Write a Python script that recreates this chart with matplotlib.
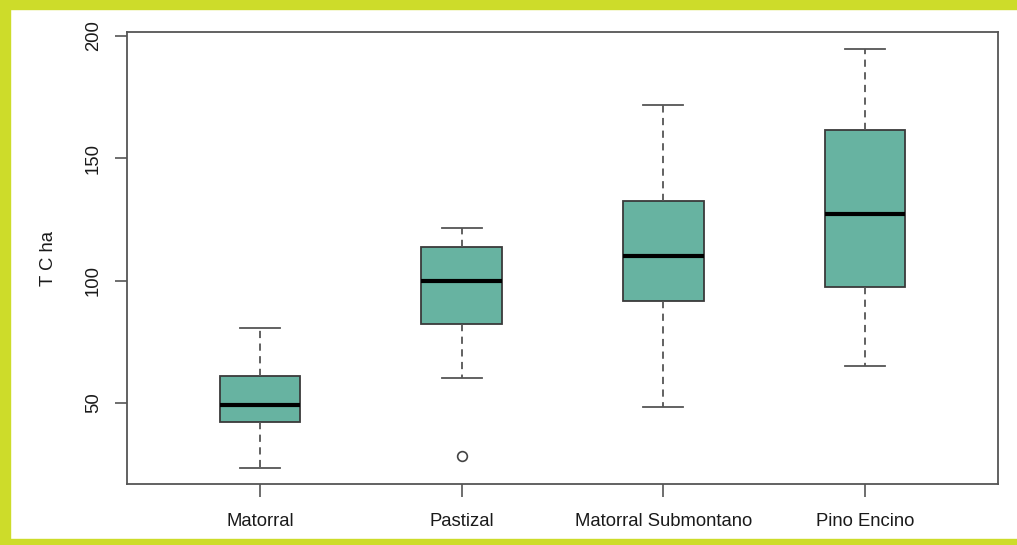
import matplotlib.pyplot as plt
from matplotlib.patches import Rectangle

categories = ['Matorral', 'Pastizal', 'Matorral Submontano', 'Pino Encino']
whislo = [23.4, 60.3, 48.2, 65.1]
q1 = [42.1, 82.3, 91.7, 97.5]
med = [49.3, 99.8, 110.0, 127.0]
q3 = [61.0, 113.5, 132.6, 161.6]
whishi = [80.7, 121.5, 171.8, 194.8]
fliers = [[], [28.3], [], []]
yticks = [50, 100, 150, 200]

plt.rcParams['font.family'] = ['Liberation Sans', 'DejaVu Sans']

fig = plt.figure(figsize=(10.17, 5.45), dpi=100)
ax = fig.add_axes([127 / 1017, 1 - 484 / 545, (998 - 127) / 1017, (484 - 32) / 545])

stats = []
for i, name in enumerate(categories):
    stats.append({'label': name, 'whislo': whislo[i], 'q1': q1[i], 'med': med[i],
                  'q3': q3[i], 'whishi': whishi[i], 'fliers': fliers[i]})

edge = '#3a3a3a'
ax.bxp(stats, positions=[1, 2, 3, 4], widths=0.4, patch_artist=True,
       boxprops=dict(facecolor='#67b3a1', edgecolor=edge, linewidth=1.3),
       medianprops=dict(color='black', linewidth=3, solid_capstyle='butt'),
       whiskerprops=dict(color='#555555', linewidth=1.3, linestyle=(0, (4, 3))),
       capprops=dict(color='#555555', linewidth=1.3),
       flierprops=dict(marker='o', markerfacecolor='none', markeredgecolor='#444444',
                       markersize=7, markeredgewidth=1.2),
       capwidths=0.2)

ax.set_xlim(0.34, 4.66)
ax.set_ylim(16.8, 201.6)
ax.set_yticks(yticks)
ax.set_yticklabels([str(v) for v in yticks], rotation=90, va='center')
ax.set_xticks([1, 2, 3, 4])
ax.set_xticklabels(categories)
ax.tick_params(axis='both', direction='out', length=9, width=1.2, color='#555555',
               labelsize=13.3, labelcolor='#1a1a1a', pad=12)
ax.tick_params(axis='y', pad=9)
for s in ax.spines.values():
    s.set_color('#555555')
    s.set_linewidth(1.3)

ax.set_ylabel('T C ha', fontsize=13.3, color='#1a1a1a')
ax.yaxis.set_label_coords(-(127 - 57) / 871, 0.5)

# yellow-green frame around the picture
green = '#cddc2a'
fig.patches.append(Rectangle((0, 0), 10 / 1017, 1, transform=fig.transFigure, color=green, zorder=0))
fig.patches.append(Rectangle((0, 1 - 9 / 545), 1, 9 / 545, transform=fig.transFigure, color=green, zorder=0))
fig.patches.append(Rectangle((0, 0), 1, 6 / 545, transform=fig.transFigure, color=green, zorder=0))

fig.savefig('out.png', dpi=100)
